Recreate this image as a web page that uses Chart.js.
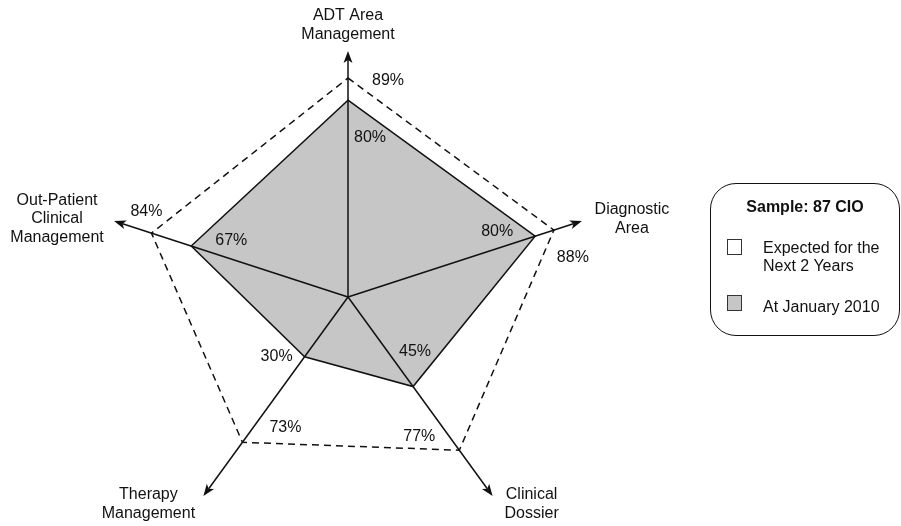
<!DOCTYPE html>
<html>
<head>
<meta charset="utf-8">
<script src="https://cdn.jsdelivr.net/npm/chart.js@4"></script>
<style>
  html, body { margin:0; padding:0; overflow:hidden; background:#fff; width:901px; height:526px; }
  body { position:relative; font-family:"Liberation Sans", Arial, Helvetica, sans-serif; color:#111; }
  #wrap { position:absolute; left:0; top:0; width:901px; height:600px; }
  .abs { position:absolute; }
  #lgbox { left:710px; top:183px; width:190px; height:153px; box-sizing:border-box; border:1.6px solid #111; border-radius:26px; }
  #lgtitle { left:710px; top:198px; width:190px; text-align:center; font-weight:bold; font-size:16px; line-height:18px; }
  .sw { width:15px; height:16px; box-sizing:border-box; border:1px solid #333; }
  .lt { font-size:16px; line-height:18px; }
</style>
</head>
<body>
<div id="wrap"><canvas id="c"></canvas></div>
<div id="lgbox" class="abs"></div>
<div id="lgtitle" class="abs"></div>
<div id="lg"></div>
<script>
// ---- data ----
const categories = [
  ['ADT Area', 'Management'],
  ['Diagnostic', 'Area'],
  ['Clinical', 'Dossier'],
  ['Therapy', 'Management'],
  ['Out-Patient', 'Clinical', 'Management']
];
const seriesNames = [['Expected for the', 'Next 2 Years'], ['At January 2010']];
const expectedValues = [89, 88, 77, 73, 84];
const currentValues = [80, 80, 45, 30, 67];
const legendTitle = 'Sample: 87 CIO';
const axisMax = 100;

// ---- legend (HTML) ----
document.getElementById('lgtitle').textContent = legendTitle;
const lg = document.getElementById('lg');
const swatchFill = ['#ffffff', '#c6c6c6'];
const swatchTop = [239, 295];
const textTop = [239, 298];
seriesNames.forEach((lines, i) => {
  const sw = document.createElement('div');
  sw.className = 'abs sw';
  sw.style.left = '727px'; sw.style.top = swatchTop[i] + 'px'; sw.style.background = swatchFill[i];
  lg.appendChild(sw);
  const t = document.createElement('div');
  t.className = 'abs lt';
  t.style.left = '763px'; t.style.top = textTop[i] + 'px';
  t.innerHTML = lines.map(s => s.replace(/&/g,'&amp;')).join('<br>');
  lg.appendChild(t);
});

// ---- overlay plugin: axes with arrows, category labels, value labels ----
const overlay = {
  id: 'overlay',
  afterDatasetsDraw(chart, args, opts) {
    const s = chart.scales.r;
    const ctx = chart.ctx;
    const cx = s.xCenter, cy = s.yCenter;
    ctx.save();
    ctx.strokeStyle = '#111';
    ctx.fillStyle = '#111';
    ctx.lineWidth = 1.5;
    ctx.setLineDash([]);
    for (let i = 0; i < categories.length; i++) {
      const tip = s.getPointPositionForValue(i, axisMax);
      const ang = Math.atan2(tip.y - cy, tip.x - cx);
      const head = 12, hw = 4.5, notch = 3;
      const bx = tip.x - head * Math.cos(ang), by = tip.y - head * Math.sin(ang);
      const nx = tip.x - (head - notch) * Math.cos(ang), ny = tip.y - (head - notch) * Math.sin(ang);
      ctx.beginPath(); ctx.moveTo(cx, cy); ctx.lineTo(nx, ny); ctx.stroke();
      ctx.beginPath();
      ctx.moveTo(tip.x, tip.y);
      ctx.lineTo(bx + hw * Math.sin(ang), by - hw * Math.cos(ang));
      ctx.lineTo(nx, ny);
      ctx.lineTo(bx - hw * Math.sin(ang), by + hw * Math.cos(ang));
      ctx.closePath(); ctx.fill();
    }
    ctx.font = '16px "Liberation Sans", Arial, sans-serif';
    ctx.textAlign = 'center';
    ctx.textBaseline = 'middle';
    const lh = 18.8;
    categories.forEach((lines, i) => {
      const tip = s.getPointPositionForValue(i, axisMax);
      const off = opts.labelOffsets[i];
      const mx = tip.x + off[0], my = tip.y + off[1];
      lines.forEach((ln, k) => {
        ctx.fillText(ln, mx, my + (k - (lines.length - 1) / 2) * lh);
      });
    });
    chart.data.datasets.forEach((ds, d) => {
      ds.data.forEach((v, i) => {
        const p = s.getPointPositionForValue(i, v);
        const off = opts.valueOffsets[d][i];
        ctx.fillText(v + '%', p.x + off[0], p.y + off[1]);
      });
    });
    ctx.restore();
  }
};

new Chart(document.getElementById('c'), {
  type: 'radar',
  data: {
    labels: categories,
    datasets: [
      {
        label: seriesNames[0].join(' '),
        data: expectedValues,
        borderColor: '#111',
        borderWidth: 1.5,
        borderDash: [7, 5],
        backgroundColor: 'rgba(0,0,0,0)',
        fill: false,
        pointRadius: 0,
        pointHoverRadius: 0,
        tension: 0
      },
      {
        label: seriesNames[1].join(' '),
        data: currentValues,
        borderColor: '#111',
        borderWidth: 1.5,
        backgroundColor: '#c6c6c6',
        fill: true,
        pointRadius: 0,
        pointHoverRadius: 0,
        tension: 0
      }
    ]
  },
  options: {
    responsive: true,
    maintainAspectRatio: false,
    animation: false,
    events: [],
    layout: { padding: { left: 102, right: 307, top: 51, bottom: 57 } },
    scales: {
      r: {
        min: 0,
        max: axisMax,
        ticks: { display: false },
        grid: { display: false },
        angleLines: { display: false },
        pointLabels: { display: false }
      }
    },
    plugins: {
      legend: { display: false },
      tooltip: { enabled: false },
      overlay: {
        labelOffsets: [[0, -26], [50, -2], [39, 8], [-55, 8], [-57, -2]],
        valueOffsets: [
          [[40, 3], [19, 27], [-40, -14], [43, -15], [-5, -22]],
          [[22, 37], [-38, -5], [2, -35], [-28, 0], [40, -5]]
        ]
      }
    }
  },
  plugins: [overlay]
});
</script>
</body>
</html>
